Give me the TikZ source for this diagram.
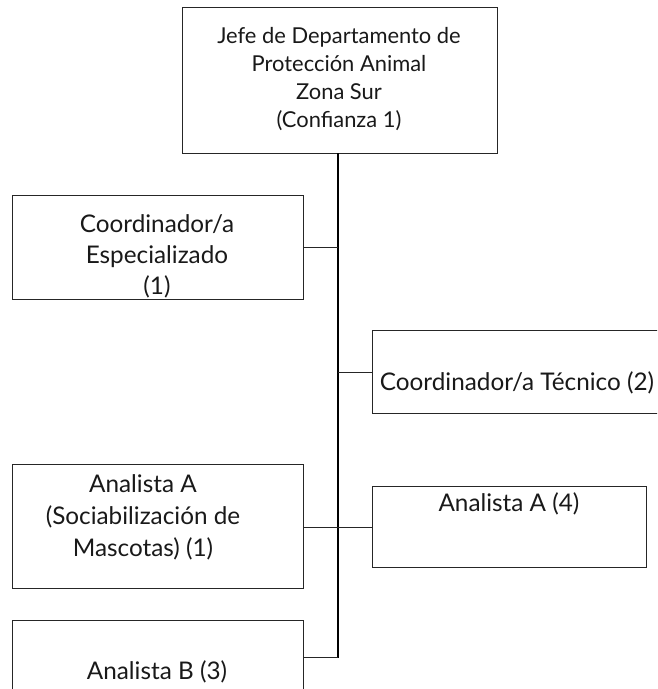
\documentclass[tikz,border=0pt]{standalone}
\usepackage{fontspec}
\setmainfont{Lato}
\begin{document}
\begin{tikzpicture}[x=1pt,y=-1pt,
  box/.style={draw=black!85,line width=0.9pt,rectangle,inner sep=0pt},
  txt/.style={align=center,inner sep=0pt,font=\fontsize{24.3}{32}\selectfont,text=black!90},
  trunk/.style={draw=black,line width=1.6pt},
  link/.style={draw=black!85,line width=0.9pt}]
\useasboundingbox (0,0) rectangle (657,689);
\clip (0,0) rectangle (657,689);
% boxes
\node[box,minimum width=315pt,minimum height=146pt] (jefe) at (339.5,80) {};
\node[box,minimum width=291pt,minimum height=104pt] (coe) at (157.5,247) {};
\node[box,minimum width=290pt,minimum height=83pt] (cot) at (517,371.5) {};
\node[box,minimum width=291pt,minimum height=124pt] (ana1) at (157.5,526) {};
\node[box,minimum width=274pt,minimum height=81pt] (ana4) at (509,526.5) {};
\node[box,minimum width=291pt,minimum height=90pt] (anb) at (157.5,665) {};
% texts
\node[txt,font=\fontsize{21.9}{27.7}\selectfont] (tjefe) at (339,79) {Jefe de Departamento de\\Protección Animal\\Zona Sur\\(Confianza 1)};
\node[txt,font=\fontsize{24.3}{31}\selectfont] (tcoe) at (157,256) {Coordinador/a\\Especializado\\(1)};
\node[txt] (tcot) at (517,383) {Coordinador/a Técnico (2)};
\node[txt,font=\fontsize{24.3}{32}\selectfont] (tana1) at (143,517) {Analista A\\(Sociabilización de\\Mascotas) (1)};
\node[txt] (tana4) at (509,504) {Analista A (4)};
\node[txt] (tanb) at (157,672) {Analista B (3)};
% connectors
\coordinate (bot) at (338,658);
\draw[trunk] (jefe.south -| bot) -- (bot);
\draw[link] (coe.east) -- (coe.east -| bot);
\draw[link] (cot.west |- 0,372) -- (bot |- 0,372);
\draw[link] (ana1.east |- 0,527) -- (ana4.west |- 0,527);
\draw[link] (anb.east |- 0,657) -- (bot |- 0,657);
\end{tikzpicture}
\end{document}
